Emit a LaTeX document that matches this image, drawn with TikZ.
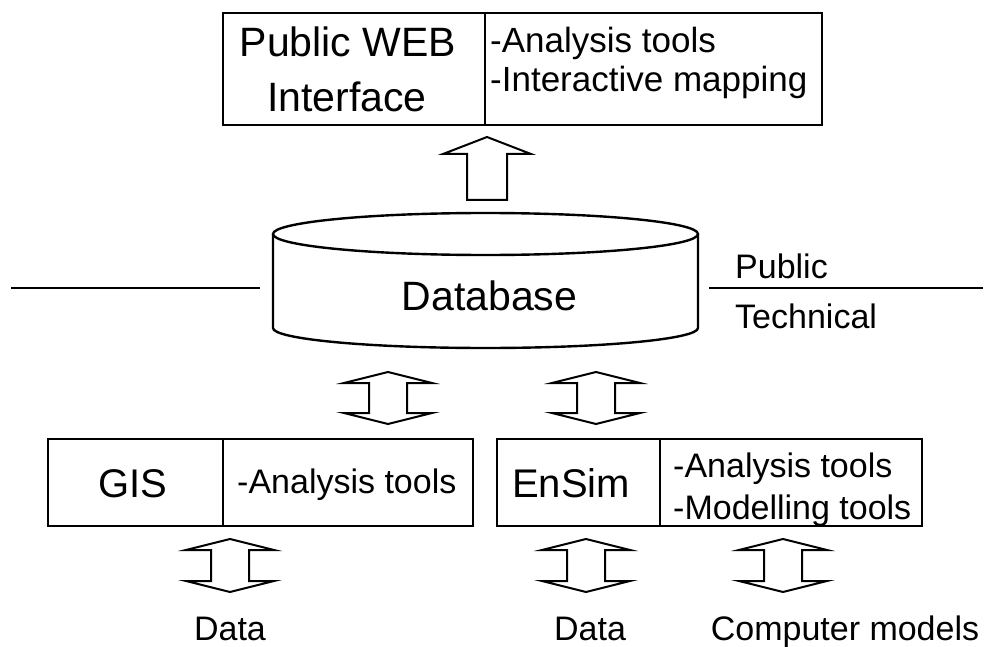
\documentclass[tikz,border=0pt]{standalone}
\usepackage{fontspec}
\setmainfont{Liberation Sans}
\newcommand{\dblarr}[3][]{%
  \draw[blk,#1] #2 -- ++(44,11) -- ++(-25,0) -- ++(0,#3) -- ++(25,0) -- ++(-44,11)
     -- ++(-44,-11) -- ++(25,0) -- ++(0,-#3) -- ++(-25,0) -- cycle;}
\begin{document}
\begin{tikzpicture}[x=1pt,y=-1pt,
  box/.style={draw,line width=2.6pt,rectangle,inner sep=0pt},
  blk/.style={draw,line width=2pt,line join=miter},
  cyl/.style={draw,line width=2.4pt},
  sepline/.style={line width=2.5pt},
  big/.style={font=\fontsize{41}{55}\selectfont,inner sep=0pt,anchor=base},
  small/.style={font=\fontsize{34}{42}\selectfont,inner sep=0pt,anchor=base west}]
\useasboundingbox (0,0) rectangle (985,647);

% top box
\node[box,minimum width=262pt,minimum height=112pt] (webL) at (354,69) {};
\node[box,minimum width=337pt,minimum height=112pt] (webR) at (653.5,69) {};
\node[big] (webT1) at (348,57) {Public WEB};
\node[big] (webT2) at (347,112) {Interface};
\node[small,font=\fontsize{35}{39}\selectfont] (webR1) at (490,53) {-Analysis tools};
\node[small,font=\fontsize{35}{39}\selectfont] (webR2) at (490,92) {-Interactive mapping};

% up arrow
\draw[blk] (487,137) -- (531,154) -- (507,154) -- (507,200) -- (467,200) -- (467,154) -- (443,154) -- cycle;

% database cylinder
\draw[cyl] (273,234) -- (273,328) arc[start angle=180,end angle=0,x radius=212.5,y radius=20] -- (698,234);
\draw[cyl] (485.5,234) ellipse [x radius=212.5, y radius=21];
\node[big] (db) at (489.5,310) {Database};

% separator lines
\coordinate (l1) at (11,288);
\coordinate (l2) at (260,288);
\coordinate (r1) at (709,288);
\coordinate (r2) at (983,288);
\draw[sepline] (l1) -- (l2);
\draw[sepline] (r1) -- (r2);
\node[small] (pub) at (735,278) {Public};
\node[small] (tech) at (735,328) {Technical};

% arrows between database and tools
\dblarr{(388,372)}{30}
\dblarr{(596,372)}{30}

% GIS box
\node[box,minimum width=175pt,minimum height=87pt] (gisL) at (135.5,482.5) {};
\node[box,minimum width=250pt,minimum height=87pt] (gisR) at (348,482.5) {};
\node[big,font=\fontsize{40}{48}\selectfont] (gisT) at (133,497) {GIS};
\node[small] (gisA) at (237,493) {-Analysis tools};

% EnSim box
\node[box,minimum width=163pt,minimum height=87pt] (ensL) at (578.5,482.5) {};
\node[box,minimum width=262pt,minimum height=87pt] (ensR) at (791,482.5) {};
\node[big,font=\fontsize{40}{48}\selectfont] (ensT) at (571,497) {EnSim};
\node[small] (ensA) at (673,477) {-Analysis tools};
\node[small] (ensM) at (673,519) {-Modelling tools};

% lower arrows
\dblarr{(230,539)}{31}
\dblarr{(586,539)}{31}
\dblarr{(783,539)}{31}

% bottom labels
\node[small,anchor=base] (data1) at (230,640) {Data};
\node[small,anchor=base] (data2) at (590,640) {Data};
\node[small,anchor=base] (models) at (845,640) {Computer models};
\end{tikzpicture}
\end{document}
